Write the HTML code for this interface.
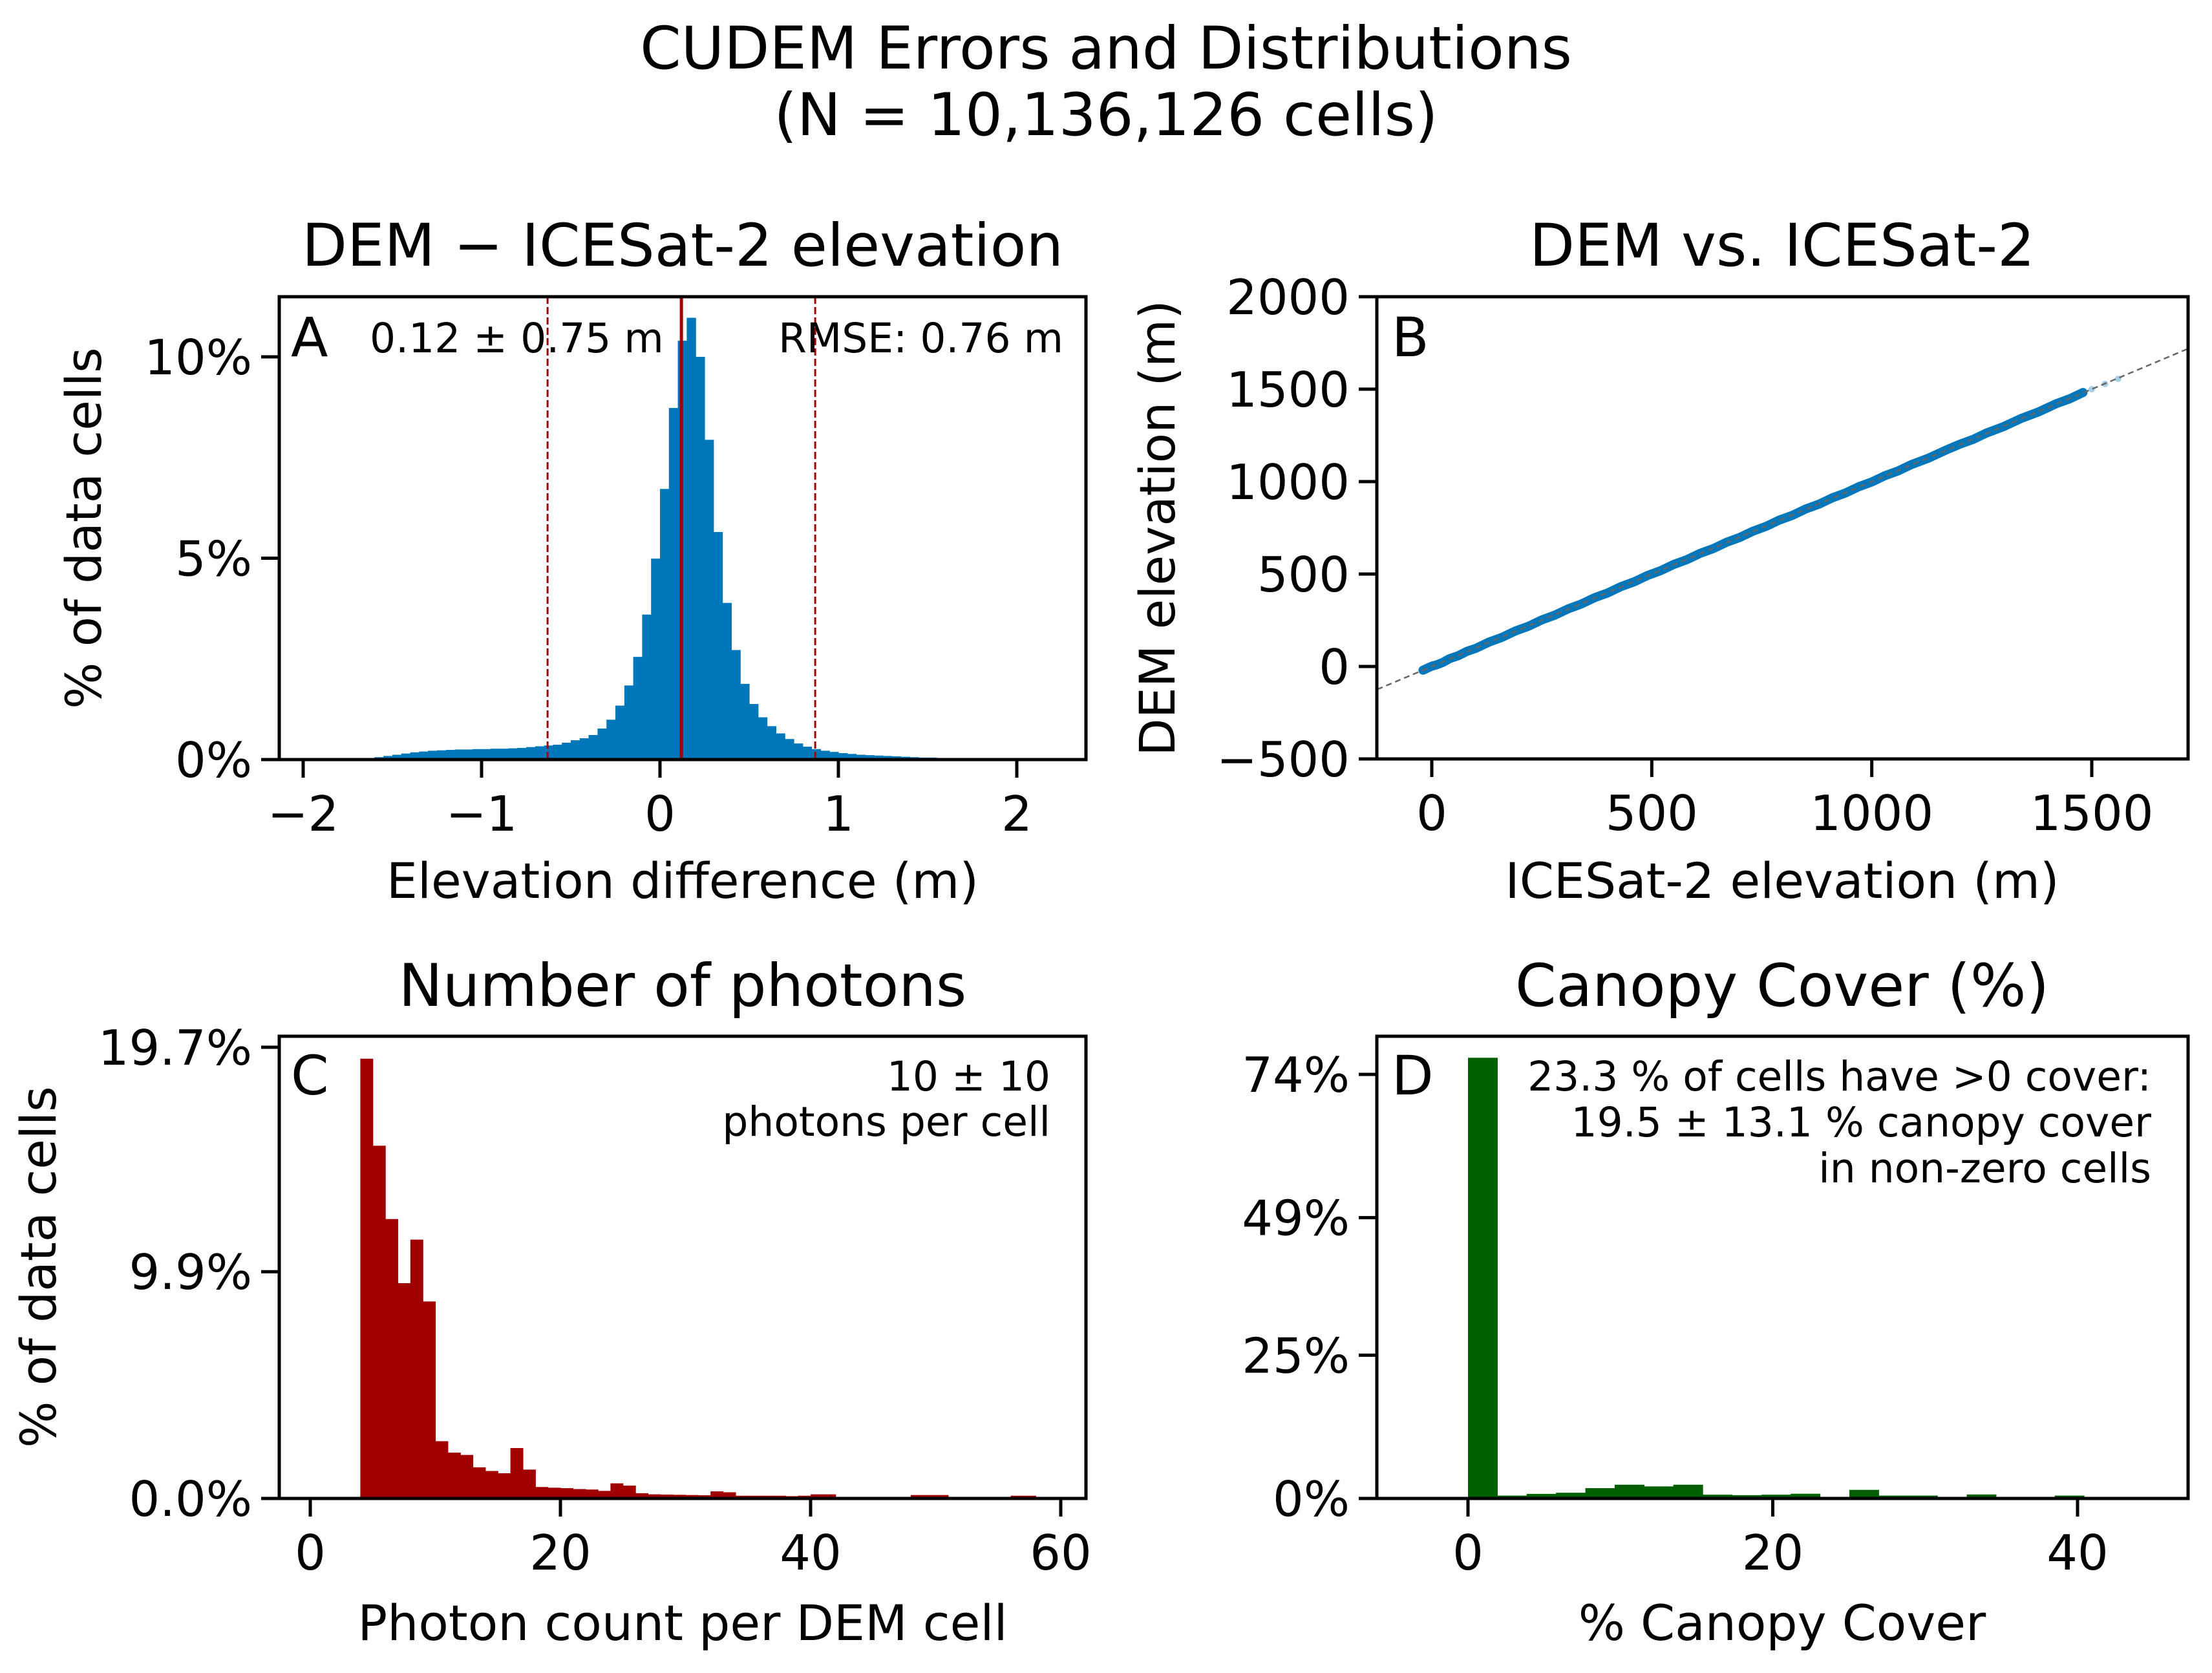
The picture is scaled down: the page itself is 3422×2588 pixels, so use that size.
<!DOCTYPE html>
<html><head><meta charset="utf-8"><style>
html,body{margin:0;padding:0;background:#fff}
svg{display:block}
text{font-family:"DejaVu Sans","Liberation Sans",sans-serif;fill:#000}
</style></head><body>
<svg id="fig" width="3422" height="2588" viewBox="0 0 3422 2588" xmlns="http://www.w3.org/2000/svg">
<rect width="3422" height="2588" fill="#fff"/>
<text x="1711" y="106" font-size="91" text-anchor="middle">CUDEM Errors and Distributions</text>
<text x="1711" y="209" font-size="91" text-anchor="middle">(N = 10,136,126 cells)</text>
<g id="gA"></g>
<g id="gB"></g>
<g id="gC"></g>
<g id="gD"></g>
</svg>
<script>
// Panel A: elevation difference histogram (bin start -1.75, width 0.05)
const aBinStart = -1.75;
const aBinWidth = 0.05;
const aValues = [0.01,0.02,0.04,0.06,0.09,0.12,0.15,0.18,0.2,0.22,0.23,0.24,0.25,0.25,0.26,0.26,0.27,0.27,0.28,0.29,0.31,0.33,0.35,0.37,0.42,0.48,0.53,0.61,0.77,0.99,1.34,1.84,2.55,3.6,4.99,6.72,8.73,10.4,10.97,10.0,7.94,5.65,3.89,2.72,1.88,1.38,1.05,0.83,0.65,0.51,0.4,0.32,0.26,0.22,0.19,0.16,0.14,0.12,0.11,0.1,0.09,0.08,0.07,0.06,0.05,0.05,0.04,0.04,0.03,0.03,0.02,0.02,0.02,0.01];
const aXTicks = [-2,-1,0,1,2];
const aXTickLabels = ["\u22122","\u22121","0","1","2"];
const aYTicks = [0,5,10];
const aYTickLabels = ["0%","5%","10%"];
const aMean = 0.12;
const aStd = 0.75;
// Panel B: scatter DEM vs ICESat-2
const bX = [-20,0,10,25,40,60,80,100,130,160,190,220,250,280,310,340,370,400,430,460,490,520,550,580,610,640,670,700,730,760,790,820,850,880,910,940,970,1000,1030,1060,1090,1130,1170,1200,1230,1260,1300,1340,1380,1420,1450,1480];
const bY = [-20,2,8,22,42,58,82,98,132,158,192,218,252,278,312,338,372,398,432,458,492,518,552,578,612,638,672,698,732,758,792,818,852,878,912,938,972,998,1032,1058,1092,1128,1172,1202,1228,1262,1298,1342,1378,1422,1448,1482];
const bSparseX = [1500,1530,1560];
const bSparseY = [1500,1528,1556];
const bXTicks = [0,500,1000,1500];
const bYTicks = [-500,0,500,1000,1500,2000];
// Panel C: photon counts (bin start 4, width 1)
const cBinStart = 4;
const cValues = [19.2,15.4,12.2,9.4,11.3,8.6,2.5,2.0,1.9,1.36,1.2,1.1,2.2,1.26,0.5,0.47,0.45,0.41,0.39,0.33,0.66,0.56,0.23,0.18,0.17,0.16,0.15,0.14,0.31,0.27,0.12,0.12,0.12,0.12,0.1,0.12,0.18,0.18,0.06,0.06,0.06,0.06,0.06,0.06,0.15,0.15,0.15,0.04,0.04,0.04,0.04,0.04,0.12,0.12];
const cXTicks = [0,20,40,60];
const cYTicks = [0,9.9,19.7];
const cYTickLabels = ["0.0%","9.9%","19.7%"];
// Panel D: canopy cover (bin start 0, width 1.925)
const dBinWidth = 1.925;
const dValues = [76.9,0.5,0.8,1.0,1.8,2.4,2.1,2.4,0.66,0.58,0.66,0.82,0.15,1.5,0.5,0.5,0.1,0.7,0.1,0.15,0.5,0.1];
const dXTicks = [0,20,40];
const dYTicks = [0,25,49,74];
const dYTickLabels = ["0%","25%","49%","74%"];

const NS = "http://www.w3.org/2000/svg";
function mk(parent, tag, attrs, txt){
  const e = document.createElementNS(NS, tag);
  for (const k in attrs) e.setAttribute(k, attrs[k]);
  if (txt !== undefined) e.textContent = txt;
  parent.appendChild(e);
  return e;
}
function scale(d0,d1,r0,r1){return v => r0 + (v-d0)/(d1-d0)*(r1-r0);}
function frame(g, L, T, R, B){
  const f = mk(g,'rect',{x:L,y:T,width:R-L,height:B-T,fill:'none',stroke:'#000','stroke-width':5});
  
  
}
function xticks(g, xs, B, ticks, labels){
  ticks.forEach((t,i)=>{
    const l = mk(g,'line',{x1:xs(t),x2:xs(t),y1:B,y2:B+28,stroke:'#000','stroke-width':5});
    
    
    const tx = mk(g,'text',{x:xs(t),y:B+110,'font-size':75,'text-anchor':'middle'}, labels ? labels[i] : String(t).replace('-','\u2212'));
    
    
  });
}
function yticks(g, ys, L, ticks, labels){
  ticks.forEach((t,i)=>{
    const l = mk(g,'line',{x1:L-28,x2:L,y1:ys(t),y2:ys(t),stroke:'#000','stroke-width':5});
    
    
    const tx = mk(g,'text',{x:L-42,y:ys(t)+27,'font-size':75,'text-anchor':'end'}, labels ? labels[i] : String(t).replace('-','\u2212'));
    
    
  });
}
function label(g, x, y, txt, size, anchor, name, rot){
  const a = {x:x,y:y,'font-size':size,'text-anchor':anchor||'middle'};
  if (rot) a.transform = 'rotate(-90 '+x+' '+y+')';
  const t = mk(g,'text',a,txt);
  
  
  return t;
}

// ---------- Panel A ----------
(function(){
  const g = document.getElementById('gA');
  const L=432,R=1680,T=459,B=1175;
  const xs = scale(-2,2,469,1573), ys = scale(0,10,B,552);
  aValues.forEach((v,i)=>{
    const x0 = xs(aBinStart+i*aBinWidth), x1 = xs(aBinStart+(i+1)*aBinWidth);
    const r = mk(g,'rect',{x:x0,y:ys(v),width:x1-x0+0.6,height:B-ys(v),fill:'#0077bb'});
    
    
  });
  const m = mk(g,'line',{x1:xs(aMean),x2:xs(aMean),y1:T,y2:B,stroke:'#a00000','stroke-width':5});
  
  
  [aMean-aStd, aMean+aStd].forEach(v=>{
    const d = mk(g,'line',{x1:xs(v),x2:xs(v),y1:T,y2:B,stroke:'#a00000','stroke-width':3,'stroke-dasharray':'11 5'});
    
    
  });
  frame(g,L,T,R,B);
  xticks(g,xs,B,aXTicks,aXTickLabels);
  yticks(g,ys,L,aYTicks,aYTickLabels);
  label(g,1056,411,'DEM \u2212 ICESat-2 elevation',91,'middle','panel-a-title');
  label(g,1056,1389,'Elevation difference (m)',76,'middle','x-axis-title-a');
  label(g,156,817,'% of data cells',76,'middle','y-axis-title-a',true);
  label(g,450,551,'A',84,'start','panel-letter-a');
  label(g,572,545,'0.12 \u00b1 0.75 m',63,'start','mean-annotation');
  label(g,1645,545,'RMSE: 0.76 m',63,'end','rmse-annotation');
})();

// ---------- Panel B ----------
(function(){
  const g = document.getElementById('gB');
  const L=2130,R=3385,T=459,B=1174;
  const xs = scale(0,1500,2215,3236), ys = scale(-500,2000,B,T);
  const xL = -124, xR = xL + (R-L)/(xs(1)-xs(0));
  let pts = bX.map((x,i)=>xs(x)+','+ys(bY[i])).join(' ');
  const band = mk(g,'polyline',{points:pts,fill:'none',stroke:'#0077bb','stroke-width':14,'stroke-linecap':'round','stroke-linejoin':'round'});
  
  
  bX.forEach((x,i)=>{
    const c = mk(g,'circle',{cx:xs(x),cy:ys(bY[i]),r:6,fill:'#0077bb'});
    
    
  });
  bSparseX.forEach((x,i)=>{
    const c = mk(g,'circle',{cx:xs(x),cy:ys(bSparseY[i]),r:5,fill:'#0077bb','fill-opacity':0.35});
    
    
  });
  const dl = mk(g,'line',{x1:xs(xL),y1:ys(xL),x2:xs(xR),y2:ys(xR),stroke:'#666','stroke-width':2.5,'stroke-dasharray':'9 6'});
  
  
  frame(g,L,T,R,B);
  xticks(g,xs,B,bXTicks);
  yticks(g,ys,L,bYTicks);
  label(g,2757,411,'DEM vs. ICESat-2',91,'middle','panel-b-title');
  label(g,2757,1389,'ICESat-2 elevation (m)',76,'middle','x-axis-title-b');
  label(g,1817,817,'DEM elevation (m)',76,'middle','y-axis-title-b',true);
  label(g,2153,551,'B',84,'start','panel-letter-b');
})();

// ---------- Panel C ----------
(function(){
  const g = document.getElementById('gC');
  const L=432,R=1680,T=1603,B=2318;
  const xs = scale(0,60,480,1641), ys = scale(0,19.7,B,1620);
  cValues.forEach((v,i)=>{
    const x0 = xs(cBinStart+i), x1 = xs(cBinStart+i+1);
    const r = mk(g,'rect',{x:x0,y:ys(v),width:x1-x0+0.6,height:B-ys(v),fill:'#a00000'});
    
    
  });
  frame(g,L,T,R,B);
  xticks(g,xs,B,cXTicks);
  yticks(g,ys,L,cYTicks,cYTickLabels);
  label(g,1056,1556,'Number of photons',91,'middle','panel-c-title');
  label(g,1056,2537,'Photon count per DEM cell',76,'middle','x-axis-title-c');
  label(g,86,1960,'% of data cells',76,'middle','y-axis-title-c',true);
  label(g,450,1693,'C',84,'start','panel-letter-c');
  label(g,1625,1687,'10 \u00b1 10',63,'end','mean-annotation-c');
  label(g,1625,1757,'photons per cell',63,'end','unit-annotation-c');
})();

// ---------- Panel D ----------
(function(){
  const g = document.getElementById('gD');
  const L=2130,R=3385,T=1603,B=2318;
  const xs = scale(0,40,2271,3214), ys = scale(0,74,B,1662);
  dValues.forEach((v,i)=>{
    const x0 = xs(i*dBinWidth), x1 = xs((i+1)*dBinWidth);
    const r = mk(g,'rect',{x:x0,y:ys(v),width:x1-x0+0.6,height:B-ys(v),fill:'#006000'});
    
    
  });
  frame(g,L,T,R,B);
  xticks(g,xs,B,dXTicks);
  yticks(g,ys,L,dYTicks,dYTickLabels);
  label(g,2757,1556,'Canopy Cover (%)',91,'middle','panel-d-title');
  label(g,2757,2537,'% Canopy Cover',76,'middle','x-axis-title-d');
  label(g,2153,1693,'D',84,'start','panel-letter-d');
  label(g,3328,1687,'23.3 % of cells have >0 cover:',63,'end','cover-annotation-1');
  label(g,3328,1758,'19.5 \u00b1 13.1 % canopy cover',63,'end','cover-annotation-2');
  label(g,3328,1829,'in non-zero cells',63,'end','cover-annotation-3');
})();
</script>
</body></html>
